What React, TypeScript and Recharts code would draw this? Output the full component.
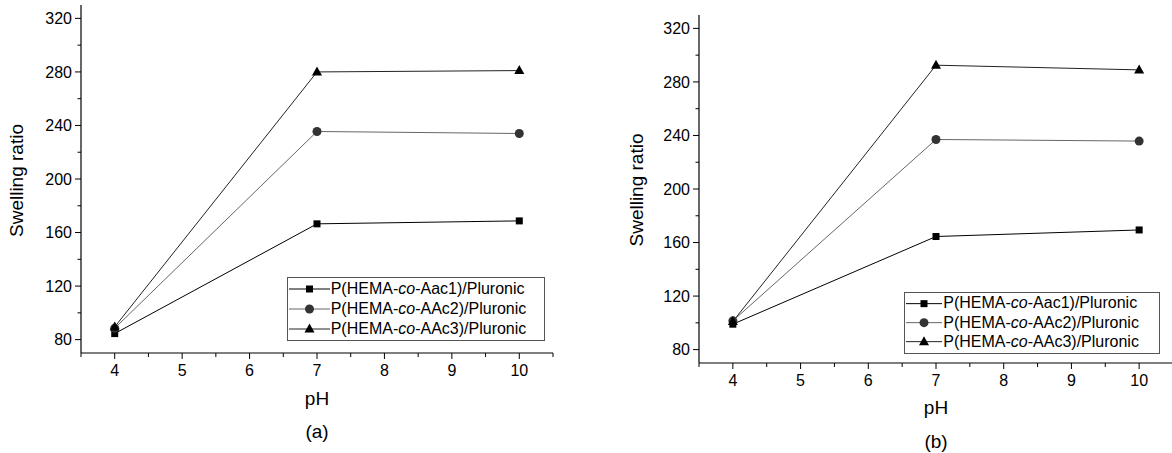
import React from "react";
import { Label, Legend, Line, LineChart, XAxis, YAxis } from "recharts";

// valeurs
const PH = [4, 7, 10];

const A_AAC1 = [84.5, 166.5, 168.7];
const A_AAC2 = [88.5, 235.5, 234];
const A_AAC3 = [89.5, 280, 281];

const B_AAC1 = [99, 164.5, 169.4];
const B_AAC2 = [101.5, 237, 235.8];
const B_AAC3 = [101, 292.5, 289];

const SERIES_NAMES = ["Aac1", "AAc2", "AAc3"];
const X_TICKS = [3.5, 4, 4.5, 5, 5.5, 6, 6.5, 7, 7.5, 8, 8.5, 9, 9.5, 10, 10.5];
const Y_TICKS = [80, 100, 120, 140, 160, 180, 200, 220, 240, 260, 280, 300, 320];

const FONT = "'Liberation Sans', Arial, sans-serif";

const STYLES = [
  { line: "#000", marker: "square", fill: "#000" },
  { line: "#666", marker: "circle", fill: "#333" },
  { line: "#222", marker: "triangle", fill: "#000" },
];

function Marker({ kind, cx, cy, fill }: { kind: string; cx: number; cy: number; fill: string }) {
  if (kind === "square") return <rect x={cx - 3.5} y={cy - 3.5} width={7} height={7} fill={fill} />;
  if (kind === "circle") return <circle cx={cx} cy={cy} r={4.5} fill={fill} />;
  return <polygon points={`${cx},${cy - 5.5} ${cx - 5},${cy + 3.5} ${cx + 5},${cy + 3.5}`} fill={fill} />;
}

function buildData(s1: number[], s2: number[], s3: number[]) {
  return PH.map((ph, i) => ({ ph, s0: s1[i], s1: s2[i], s2: s3[i] }));
}

function XTick(props: any) {
  const { x, y, payload } = props;
  const axisY = y - 6;
  const major = Number.isInteger(payload.value);
  return (
    <g>
      <line x1={x} x2={x} y1={axisY} y2={axisY + (major ? 6 : 4)} stroke="#000" />
      {major && (
        <text x={x} y={axisY + 23} textAnchor="middle" fontSize={16} fontFamily={FONT} fill="#000">
          {payload.value}
        </text>
      )}
    </g>
  );
}

function YTick(props: any) {
  const { x, y, payload } = props;
  const axisX = x + 6;
  const major = payload.value % 40 === 0;
  return (
    <g>
      <line x1={axisX - (major ? 6 : 3.5)} x2={axisX} y1={y} y2={y} stroke="#000" />
      {major && (
        <text x={axisX - 9} y={y} dy="0.355em" textAnchor="end" fontSize={16} fontFamily={FONT} fill="#000">
          {payload.value}
        </text>
      )}
    </g>
  );
}

function legendContent(rowH: number, iconW: number, width: number) {
  return () => (
    <div
      style={{
        boxSizing: "border-box",
        width,
        border: "1px solid #555",
        background: "#fff",
        padding: "1px 0 1px 1px",
        fontFamily: FONT,
        fontSize: 16,
        color: "#000",
      }}
    >
      {SERIES_NAMES.map((n, i) => (
        <div key={n} style={{ display: "flex", alignItems: "center", height: rowH, whiteSpace: "nowrap" }}>
          <svg width={iconW} height={rowH} style={{ flex: "none" }}>
            <line x1={0} x2={iconW} y1={rowH / 2} y2={rowH / 2} stroke={STYLES[i].line} />
            <Marker kind={STYLES[i].marker} cx={iconW / 2} cy={rowH / 2} fill={STYLES[i].fill} />
          </svg>
          <span style={{ marginLeft: 1 }}>
            P(HEMA-<i>co</i>-{n})/Pluronic
          </span>
        </div>
      ))}
    </div>
  );
}

type PanelProps = {
  data: any[];
  width: number;
  margin: { top: number; right: number; bottom: number; left: number };
  yWidth: number;
  yLabel: { x: number; y: number };
  xLabelX: number;
  phY: number;
  tagY: number;
  tag: string;
  legendPos: { left: number; top: number };
  legendRow: number;
  legendIcon: number;
  legendWidth: number;
};

function Panel(p: PanelProps) {
  return (
    <LineChart width={p.width} height={453} data={p.data} margin={p.margin}>
      <XAxis
        dataKey="ph"
        type="number"
        domain={[3.5, 10.5]}
        ticks={X_TICKS}
        interval={0}
        height={30}
        tickSize={6}
        tickMargin={0}
        tickLine={false}
        axisLine={{ stroke: "#000", strokeWidth: 1.2 }}
        tick={<XTick />}
        allowDataOverflow
      >
        <Label
          content={() => (
            <g fontFamily={FONT} fill="#000" fontSize={19}>
              <text x={p.xLabelX} y={p.phY} textAnchor="middle">pH</text>
              <text x={p.xLabelX} y={p.tagY} textAnchor="middle">{p.tag}</text>
            </g>
          )}
        />
      </XAxis>
      <YAxis
        type="number"
        domain={[70, 330]}
        ticks={Y_TICKS}
        interval={0}
        width={p.yWidth}
        tickSize={6}
        tickMargin={0}
        tickLine={false}
        axisLine={{ stroke: "#000", strokeWidth: 1.2 }}
        tick={<YTick />}
        allowDataOverflow
      >
        <Label
          content={() => (
            <text
              x={p.yLabel.x}
              y={p.yLabel.y}
              transform={`rotate(-90 ${p.yLabel.x} ${p.yLabel.y})`}
              textAnchor="middle"
              fontFamily={FONT}
              fontSize={19}
              fill="#000"
            >
              Swelling ratio
            </text>
          )}
        />
      </YAxis>
      <Legend
        layout="horizontal"
        verticalAlign="middle"
        align="center"
        wrapperStyle={{ left: p.legendPos.left, top: p.legendPos.top, width: "auto" }}
        content={legendContent(p.legendRow, p.legendIcon, p.legendWidth)}
      />
      {STYLES.map((s, i) => (
        <Line
          key={i}
          dataKey={`s${i}`}
          stroke={s.line}
          strokeWidth={1}
          isAnimationActive={false}
          dot={(d: any) => (
            <Marker key={`${i}-${d.index}`} kind={s.marker} cx={d.cx} cy={d.cy} fill={s.fill} />
          )}
          activeDot={false}
        />
      ))}
    </LineChart>
  );
}

export default function App() {
  const dataA = buildData(A_AAC1, A_AAC2, A_AAC3);
  const dataB = buildData(B_AAC1, B_AAC2, B_AAC3);
  return (
    <div
      style={{
        position: "absolute",
        left: 0,
        top: 0,
        width: 1172,
        height: 453,
        overflow: "hidden",
        background: "#fff",
      }}
    >
      <div style={{ position: "absolute", left: 0, top: 0 }}>
        <Panel
          data={dataA}
          width={580}
          margin={{ top: 5, right: 27, bottom: 70, left: 0 }}
          yWidth={81}
          yLabel={{ x: 23, y: 180.5 }}
          xLabelX={317}
          phY={404.5}
          tagY={437.5}
          tag="(a)"
          legendPos={{ left: 286.7, top: 276.7 }}
          legendRow={20}
          legendIcon={41}
          legendWidth={258}
        />
      </div>
      <div style={{ position: "absolute", left: 580, top: 0 }}>
        <Panel
          data={dataB}
          width={600}
          margin={{ top: 15, right: 7, bottom: 60, left: 0 }}
          yWidth={119}
          yLabel={{ x: 63.2, y: 190 }}
          xLabelX={356}
          phY={414}
          tagY={447.5}
          tag="(b)"
          legendPos={{ left: 324.3, top: 291.7 }}
          legendRow={19.3}
          legendIcon={36}
          legendWidth={256}
        />
      </div>
    </div>
  );
}
